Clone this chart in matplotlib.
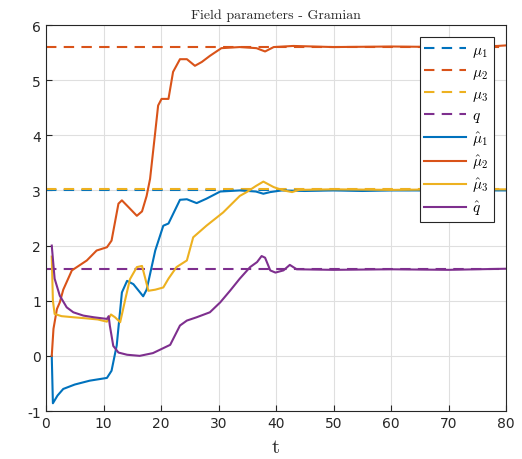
import numpy as np
import matplotlib
matplotlib.use("Agg")
import matplotlib.pyplot as plt

plt.rcParams['mathtext.fontset'] = 'cm'
plt.rcParams['axes.unicode_minus'] = False

# valeurs vraies (constantes)
t_true = [0, 80]
mu1 = 3.0
mu2 = 5.6
mu3 = 3.02
q = 1.57

# estimations
t_mu1 = [1, 1.2, 2, 3, 5, 7.6, 10.6, 11.4, 12.3, 13.2, 14.1, 15.2, 16.9, 17.5, 19, 20.4, 21.3,
         23.3, 24.5, 26.2, 27.9, 30.3, 33.7, 36.5, 37.8, 39, 41, 45, 50, 55, 60, 65, 70, 75, 80]
v_mu1 = [0, -0.86, -0.72, -0.6, -0.52, -0.45, -0.4, -0.27, 0.19, 1.15, 1.36, 1.3, 1.08, 1.2, 1.91,
         2.36, 2.4, 2.83, 2.84, 2.77, 2.85, 2.98, 3.0, 2.98, 2.94, 2.97, 3.0, 2.99, 3.0, 2.99, 3.0,
         3.0, 2.99, 3.0, 3.0]

t_mu2 = [1, 1.3, 1.9, 2.4, 3, 4.5, 7.1, 8.8, 10.6, 11.4, 12.6, 13.2, 14.6, 15.8, 16.7, 17.5, 18.1,
         19, 19.5, 20.1, 21.3, 22.1, 23.3, 24.5, 25.9, 27.1, 28.5, 30.5, 33.7, 36.6, 38.1, 39.6, 43,
         50, 60, 70, 78.5, 80]
v_mu2 = [0, 0.49, 0.85, 0.97, 1.2, 1.55, 1.73, 1.91, 1.97, 2.09, 2.76, 2.82, 2.67, 2.54, 2.62, 2.9,
         3.21, 4.06, 4.54, 4.66, 4.66, 5.15, 5.38, 5.38, 5.26, 5.33, 5.44, 5.58, 5.6, 5.58, 5.52, 5.6,
         5.62, 5.6, 5.61, 5.6, 5.62, 5.63]

t_mu3 = [1, 1.2, 1.5, 2.7, 4.75, 7, 9, 10.6, 11.3, 12.0, 12.9, 13.8, 14.6, 15.8, 16.7, 17.3, 17.8,
         19, 20.4, 21.3, 22.7, 24.5, 25.6, 27.9, 30.8, 33.7, 34.9, 36.5, 37.8, 39.6, 41.3, 42.8, 44,
         50, 60, 70, 80]
v_mu3 = [1.8, 1.0, 0.76, 0.72, 0.70, 0.68, 0.66, 0.62, 0.75, 0.70, 0.61, 1.03, 1.39, 1.61, 1.63,
         1.39, 1.18, 1.2, 1.24, 1.4, 1.61, 1.73, 2.15, 2.36, 2.6, 2.9, 2.97, 3.08, 3.16, 3.06, 3.0,
         2.97, 3.01, 3.02, 3.01, 3.02, 3.02]

t_q = [1, 1.5, 2.4, 3.6, 4.75, 6.5, 8.3, 10.6, 10.9, 11.1, 11.7, 12.6, 14.1, 16.3, 18.6, 20.4,
       21.6, 23.3, 24.5, 26.2, 28.5, 30.3, 32, 33.7, 35.5, 36.7, 37.5, 38.1, 39, 39.9, 41.3, 42.4,
       43.6, 50, 60, 70, 80]
v_q = [2.0, 1.4, 1.09, 0.88, 0.79, 0.73, 0.70, 0.67, 0.72, 0.55, 0.18, 0.06, 0.02, 0.0, 0.05,
       0.14, 0.2, 0.55, 0.64, 0.7, 0.79, 0.97, 1.18, 1.4, 1.61, 1.70, 1.81, 1.78, 1.55, 1.51, 1.55,
       1.65, 1.57, 1.56, 1.57, 1.56, 1.58]

c_blue = '#0072BD'
c_orange = '#D95319'
c_yellow = '#EDB120'
c_purple = '#7E2F8E'

fig = plt.figure(figsize=(5.22, 4.6), dpi=100)
ax = fig.add_axes([46/522, 1 - 412/460, 460/522, 386/460])

dash = (0, (5, 3.5))
lw = 1.5
ax.plot(t_true, [mu1, mu1], color=c_blue, ls=dash, lw=lw, label=r'$\mu_1$')
ax.plot(t_true, [mu2, mu2], color=c_orange, ls=dash, lw=lw, label=r'$\mu_2$')
ax.plot(t_true, [mu3, mu3], color=c_yellow, ls=dash, lw=lw, label=r'$\mu_3$')
ax.plot(t_true, [q, q], color=c_purple, ls=dash, lw=lw, label=r'$q$')
ax.plot(t_mu1, v_mu1, color=c_blue, lw=lw, label=r'$\hat{\mu}_1$')
ax.plot(t_mu2, v_mu2, color=c_orange, lw=lw, label=r'$\hat{\mu}_2$')
ax.plot(t_mu3, v_mu3, color=c_yellow, lw=lw, label=r'$\hat{\mu}_3$')
ax.plot(t_q, v_q, color=c_purple, lw=lw, label=r'$\hat{q}$')

ax.set_xlim(0, 80)
ax.set_ylim(-1, 6)
ax.set_xticks(np.arange(0, 81, 10))
ax.set_yticks(np.arange(-1, 7, 1))
ax.grid(True, color='#dfdfdf', lw=0.8)
ax.set_axisbelow(True)
ax.tick_params(direction='in', labelsize=10, colors='#262626', length=4)
for s in ax.spines.values():
    s.set_color('#262626')
    s.set_linewidth(0.8)

ax.set_title('Field parameters - Gramian', fontfamily='cmr10', fontsize=10,
             color='#262626', pad=5)
ax.set_xlabel('t', fontfamily='cmr10', fontsize=15, color='#262626', labelpad=6)

leg = ax.legend(loc='upper right', fontsize=11, handlelength=2.75, labelspacing=0.32,
                handletextpad=0.4, borderpad=0.3, borderaxespad=0.8,
                fancybox=False, framealpha=1, edgecolor='#262626')
leg.get_frame().set_linewidth(0.8)

fig.savefig('out.png', dpi=100)
